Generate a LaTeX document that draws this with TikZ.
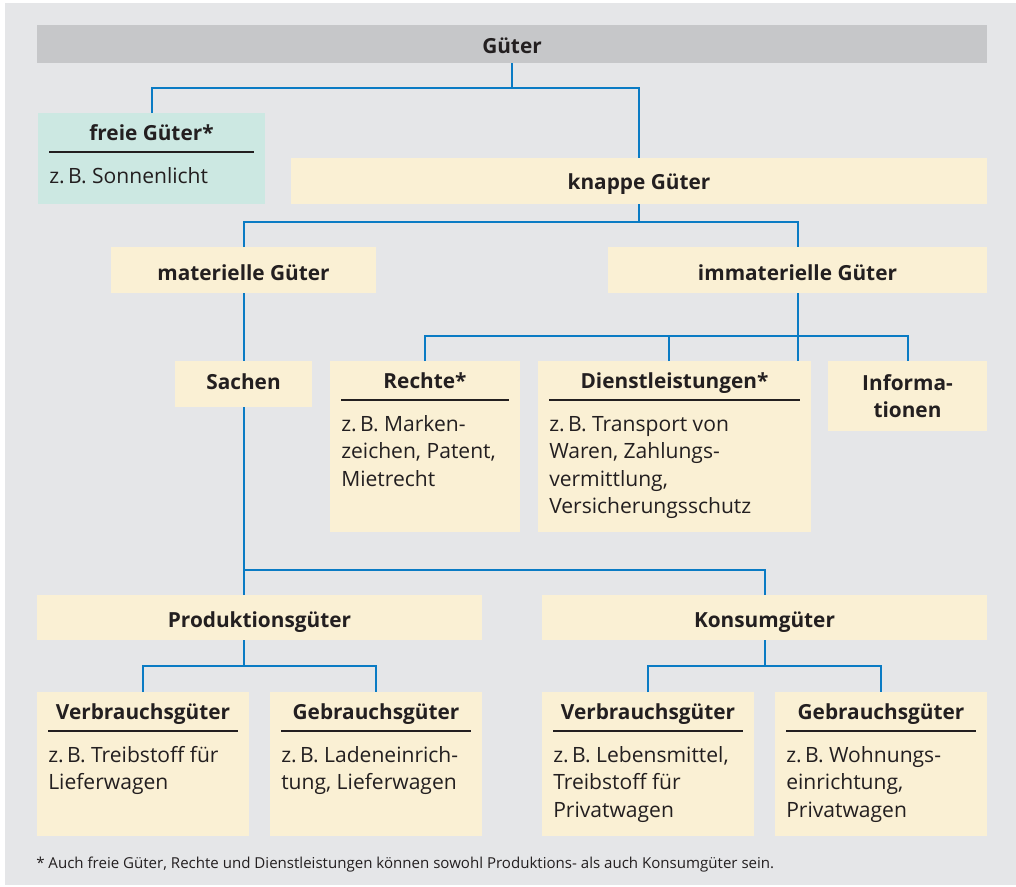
\documentclass[tikz,border=0pt]{standalone}
\usepackage{fontspec}
\setmainfont{Open Sans}
\usetikzlibrary{positioning,fit}
\definecolor{panelgray}{HTML}{E5E6E8}
\definecolor{bargray}{HTML}{C6C7C9}
\definecolor{boxyellow}{HTML}{FAF0D4}
\definecolor{freeteal}{HTML}{CCE8E2}
\definecolor{lineblue}{HTML}{0A7BC4}
\definecolor{darktext}{HTML}{231F20}

\tikzset{
  box/.style={fill=boxyellow, inner sep=0pt, outer sep=0pt},
  head/.style={font=\bfseries\fontsize{15.6}{20.6}\selectfont, text=darktext,
    anchor=base, inner sep=0pt},
  body/.style={font=\fontsize{15.8}{20.6}\selectfont, text=darktext,
    align=left, anchor=north west, inner sep=0pt},
  rule/.style={draw=darktext, line width=0.9pt},
  conn/.style={draw=lineblue, line width=1.5pt},
}

\begin{document}
\begin{tikzpicture}[x=0.75pt, y=-0.75pt]
  \useasboundingbox (0,0) rectangle (1016,886);
  \fill[panelgray] (5,3) rectangle (1016,885);

  % top level
  \node[box, fill=bargray, fit={(37,25) (987,63)}] (gueter) {};
  \node[head] (gueterT) at (512,53) {Güter};
  \node[box, fill=freeteal, fit={(38,113) (265,204)}] (freie) {};
  \node[head] (freieT) at (151.5,140) {freie Güter*};
  \draw[rule] (49,152) -- (254,152);
  \node[body] (freieB) at (49,163.8) {\strut z.\,B. Sonnenlicht};
  \node[box, fit={(291,158) (987,204)}] (knappe) {};
  \node[head] (knappeT) at (639,189) {knappe Güter};

  % materielle / immaterielle
  \node[box, fit={(111,247) (376,293)}] (materiell) {};
  \node[head] (materiellT) at (243.5,280) {materielle Güter};
  \node[box, fit={(608,247) (987,293)}] (immateriell) {};
  \node[head] (immateriellT) at (797.5,280) {immaterielle Güter};

  \node[box, fit={(175,361) (312,407)}] (sachen) {};
  \node[head] (sachenT) at (243.5,389) {Sachen};
  \node[box, fit={(330,361) (520,532)}] (rechte) {};
  \node[head] (rechteT) at (425,388) {Rechte*};
  \draw[rule] (341,400) -- (509,400);
  \node[body] (rechteB) at (341,411.8) {\strut z.\,B. Marken-\\zeichen, Patent,\\Mietrecht};
  \node[box, fit={(538,361) (811,532)}] (dienst) {};
  \node[head] (dienstT) at (674.5,388) {Dienstleistungen*};
  \draw[rule] (549,400) -- (800,400);
  \node[body] (dienstB) at (549,411.8) {\strut z.\,B. Transport von\\Waren, Zahlungs-\\vermittlung,\\Versicherungsschutz};
  \node[box, fit={(828,361) (987,431)}] (info) {};
  \node[head, anchor=center, align=center] (infoT) at (info.center) {Informa-\\tionen};

  % Produktions- und Konsumgueter
  \node[box, fit={(37,595) (482,640)}] (prod) {};
  \node[head] (prodT) at (259.5,627) {Produktionsgüter};
  \node[box, fit={(542,595) (987,640)}] (konsum) {};
  \node[head] (konsumT) at (764.5,627) {Konsumgüter};

  \node[box, fit={(37,692) (249,836)}] (pverb) {};
  \node[head] (pverbT) at (143,719) {Verbrauchsgüter};
  \draw[rule] (48,731) -- (238,731);
  \node[body] (pverbB) at (48,742.8) {\strut z.\,B. Treibstoff für\\Lieferwagen};
  \node[box, fit={(270,692) (482,836)}] (pgebr) {};
  \node[head] (pgebrT) at (376,719) {Gebrauchsgüter};
  \draw[rule] (281,731) -- (471,731);
  \node[body] (pgebrB) at (281,742.8) {\strut z.\,B. Ladeneinrich-\\tung, Lieferwagen};
  \node[box, fit={(542,692) (754,836)}] (kverb) {};
  \node[head] (kverbT) at (648,719) {Verbrauchsgüter};
  \draw[rule] (553,731) -- (743,731);
  \node[body] (kverbB) at (553,742.8) {\strut z.\,B. Lebensmittel,\\Treibstoff für\\Privatwagen};
  \node[box, fit={(775,692) (987,836)}] (kgebr) {};
  \node[head] (kgebrT) at (881,719) {Gebrauchsgüter};
  \draw[rule] (786,731) -- (976,731);
  \node[body] (kgebrB) at (786,742.8) {\strut z.\,B. Wohnungs-\\einrichtung,\\Privatwagen};

  \node[anchor=base west, inner sep=0pt, text=darktext, font=\fontsize{11.3}{13}\selectfont]
    (fussnote) at (36,868) {* Auch freie Güter, Rechte und Dienstleistungen können sowohl Produktions- als auch Konsumgüter sein.};

  % connectors
  \coordinate (j1) at (512,88);
  \draw[conn] (gueter.south) -- (j1);
  \draw[conn] (freie.north) |- (j1) -| (knappe.north);
  \coordinate (j2) at (639,222);
  \draw[conn] (knappe.south) -- (j2);
  \draw[conn] (materiell.north) |- (j2) -| (immateriell.north);
  \coordinate (j3) at (797.5,336);
  \draw[conn] (immateriell.south) -- (immateriell.south |- dienst.north);
  \draw[conn] (rechte.north) |- (j3) -| (info.north);
  \draw[conn] ([xshift=-4.1pt]dienst.north) -- ([xshift=-4.1pt]dienst.north |- j3);
  \draw[conn] (materiell.south) -- (sachen.north);
  \coordinate (j4) at (243.5,570);
  \draw[conn] (sachen.south) -- (j4) -| (konsum.north);
  \draw[conn] (j4) -- (j4 |- prod.north);
  \coordinate (j5) at (243.5,666);
  \draw[conn] (j5 |- prod.south) -- (j5);
  \draw[conn] (pverb.north) |- (j5) -| (pgebr.north);
  \coordinate (j6) at (764.5,666);
  \draw[conn] (konsum.south) -- (j6);
  \draw[conn] (kverb.north) |- (j6) -| (kgebr.north);
\end{tikzpicture}
\end{document}
